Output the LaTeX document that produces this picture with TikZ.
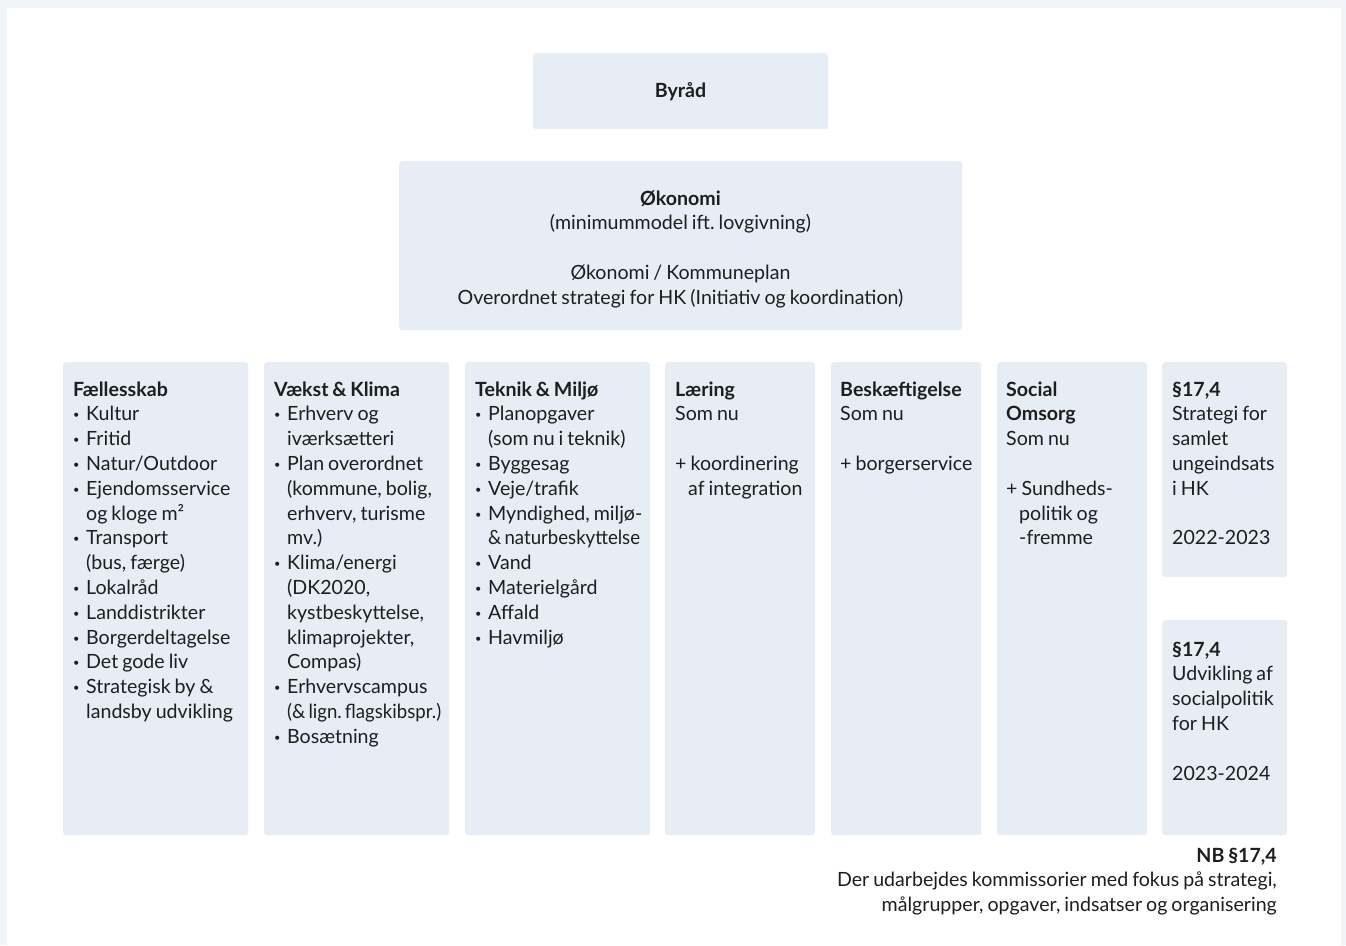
\documentclass[tikz,border=0pt]{standalone}
\usepackage{graphicx}
\usepackage{fontspec}
\setmainfont[WordSpace=0.8]{Lato}
\frenchspacing
\definecolor{boxfill}{HTML}{E6EDF4}
\definecolor{outerbg}{HTML}{F0F4F8}
\definecolor{ink}{HTML}{1E1E1E}
\newcommand{\bodyfont}{\fontsize{19.6}{24.8}\selectfont}
\newcommand{\bl}{\makebox[13pt][l]{\fontsize{11}{11}\selectfont\raisebox{0.35ex}{•}}}
\newcommand{\ind}{\hspace*{13pt}}
\newcommand{\tight}[1]{\scalebox{0.95}[1]{#1}}
\tikzset{
  box/.style={fill=boxfill, rounded corners=3pt, inner sep=0pt, draw=none, anchor=north west},
  txt/.style={anchor=base west, inner sep=0pt, text=ink, font=\bodyfont},
  ctxt/.style={anchor=base, inner sep=0pt, text=ink, font=\bodyfont},
}
\begin{document}
\begin{tikzpicture}[x=1pt,y=-1pt]
\fill[outerbg] (0,0) rectangle (1346,945);
\fill[white] (7,8) rectangle (1341,945);
\useasboundingbox (0,0) rectangle (1346,945);

% top boxes
\node[box, minimum width=295pt, minimum height=76pt] (byrad) at (533,53) {};
\node[ctxt] (byradt) at (680.5,97) {\textbf{Byråd}};
\node[box, minimum width=563pt, minimum height=169pt] (oko) at (399,161) {};
\node[ctxt] (okot) at (680.5,205) {\begin{tabular}[t]{@{}c@{}}\textbf{Økonomi}\\(minimummodel ift. lovgivning)\\[24.8pt]Økonomi / Kommuneplan\\Overordnet strategi for HK (Initiativ og koordination)\end{tabular}};

% columns
\node[box, minimum width=185pt, minimum height=473pt] (c1) at (63,362) {};
\node[box, minimum width=185pt, minimum height=473pt] (c2) at (264,362) {};
\node[box, minimum width=185pt, minimum height=473pt] (c3) at (465,362) {};
\node[box, minimum width=150pt, minimum height=473pt] (c4) at (665,362) {};
\node[box, minimum width=150pt, minimum height=473pt] (c5) at (831,362) {};
\node[box, minimum width=150pt, minimum height=473pt] (c6) at (997,362) {};
\node[box, minimum width=125pt, minimum height=215pt] (c7a) at (1162,362) {};
\node[box, minimum width=125pt, minimum height=215pt] (c7b) at (1162,620) {};

\node[txt] (t1) at (73,396) {\begin{tabular}[t]{@{}l@{}}\textbf{Fællesskab}\\
\bl Kultur\\ \bl Fritid\\ \bl Natur/Outdoor\\ \bl Ejendomsservice\\ \ind og kloge m²\\
\bl Transport\\ \ind (bus, færge)\\ \bl Lokalråd\\ \bl Landdistrikter\\ \bl Borgerdeltagelse\\
\bl Det gode liv\\ \bl Strategisk by \&\\ \ind landsby udvikling\end{tabular}};

\node[txt] (t2) at (274,396) {\begin{tabular}[t]{@{}l@{}}\textbf{Vækst \& Klima}\\
\bl Erhverv og\\ \ind iværksætteri\\ \bl Plan overordnet\\ \ind (kommune, bolig,\\ \ind erhverv, turisme\\ \ind mv.)\\
\bl Klima/energi\\ \ind (DK2020,\\ \ind kystbeskyttelse,\\ \ind klimaprojekter,\\ \ind Compas)\\
\bl Erhvervscampus\\ \ind \tight{(\&\,lign.\,flagskibspr.)}\\ \bl Bosætning\end{tabular}};

\node[txt] (t3) at (475,396) {\begin{tabular}[t]{@{}l@{}}\textbf{Teknik \& Miljø}\\
\bl Planopgaver\\ \ind (som nu i teknik)\\ \bl Byggesag\\ \bl Veje/trafik\\ \bl Myndighed, miljø-\\ \ind \tight{\&\,naturbeskyttelse}\\
\bl Vand\\ \bl Materielgård\\ \bl Affald\\ \bl Havmiljø\end{tabular}};

\node[txt] (t4) at (675,396) {\begin{tabular}[t]{@{}l@{}}\textbf{Læring}\\ Som nu\\ \\ + koordinering\\ \ind af integration\end{tabular}};

\node[txt] (t5) at (840,396) {\begin{tabular}[t]{@{}l@{}}\textbf{Beskæftigelse}\\ Som nu\\ \\ + borgerservice\end{tabular}};

\node[txt] (t6) at (1006,396) {\begin{tabular}[t]{@{}l@{}}\textbf{Social}\\ \textbf{Omsorg}\\ Som nu\\ \\ + Sundheds-\\ \ind politik og\\ \ind -fremme\end{tabular}};

\node[txt] (t7a) at (1172,396) {\begin{tabular}[t]{@{}l@{}}\textbf{§17,4}\\ Strategi for\\ samlet\\ ungeindsats\\ i HK\\ \\ 2022-2023\end{tabular}};

\node[txt] (t7b) at (1172,656) {\begin{tabular}[t]{@{}l@{}}\textbf{§17,4}\\ Udvikling af\\ socialpolitik\\ for HK\\ \\ 2023-2024\end{tabular}};

\node[anchor=base east, inner sep=0pt, text=ink, font=\bodyfont] (nb) at (1277,862) {\begin{tabular}[t]{@{}r@{}}\textbf{NB §17,4}\\ Der udarbejdes kommissorier med fokus på strategi,\\ målgrupper, opgaver, indsatser og organisering\end{tabular}};
\end{tikzpicture}
\end{document}
